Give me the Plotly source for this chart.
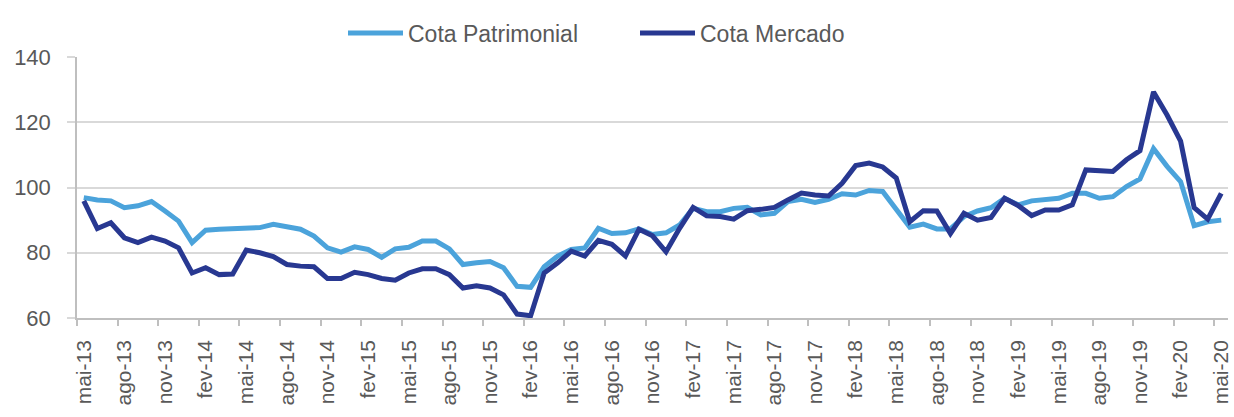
import plotly.graph_objects as go

tick_labels = ["mai-13", "ago-13", "nov-13", "fev-14", "mai-14", "ago-14", "nov-14",
               "fev-15", "mai-15", "ago-15", "nov-15", "fev-16", "mai-16", "ago-16",
               "nov-16", "fev-17", "mai-17", "ago-17", "nov-17", "fev-18", "mai-18",
               "ago-18", "nov-18", "fev-19", "mai-19", "ago-19", "nov-19", "fev-20",
               "mai-20"]

cota_patrimonial = [
    96.9, 96.2, 95.9, 93.8, 94.4, 95.7, 92.8, 89.7, 83.1, 86.9,
    87.2, 87.4, 87.7, 87.7, 88.7, 87.9, 87.2, 85.1, 81.5, 80.2,
    81.8, 81.0, 78.6, 81.2, 81.7, 83.6, 83.6, 81.2, 76.4, 76.9,
    77.3, 75.4, 69.7, 69.4, 75.7, 79.0, 81.0, 81.5, 87.5, 85.9,
    86.1, 87.3, 85.6, 86.1, 88.5, 93.6, 92.6, 92.6, 93.6, 93.9,
    91.6, 92.1, 95.7, 96.4, 95.4, 96.4, 98.1, 97.7, 99.1, 98.8,
    93.1, 87.8, 88.8, 87.3, 87.3, 91.1, 92.8, 93.8, 96.7, 94.7,
    95.9, 96.2, 96.7, 98.2, 98.2, 96.7, 97.2, 100.3, 102.6, 111.9,
    106.5, 101.8, 88.3, 89.5, 90.0]

cota_mercado = [
    95.9, 87.4, 89.2, 84.6, 83.1, 84.8, 83.6, 81.5, 73.8, 75.4,
    73.3, 73.5, 80.8, 80.0, 78.8, 76.4, 75.9, 75.7, 72.1, 72.1,
    74.0, 73.3, 72.1, 71.6, 73.8, 75.1, 75.1, 73.3, 69.2, 69.9,
    69.2, 67.1, 61.2, 60.7, 73.8, 76.9, 80.5, 79.0, 83.8, 82.6,
    79.0, 87.2, 85.2, 80.3, 87.5, 93.9, 91.3, 91.1, 90.3, 92.9,
    93.3, 93.9, 96.2, 98.3, 97.7, 97.4, 101.3, 106.7, 107.5, 106.3,
    102.9, 89.5, 92.9, 92.8, 85.9, 92.1, 90.0, 90.8, 96.7, 94.5,
    91.4, 93.1, 93.1, 94.7, 105.4, 105.1, 104.9, 108.5, 111.3, 129.3,
    122.2, 114.2, 93.8, 90.3, 98.2]

n = len(cota_patrimonial)
x = list(range(n))
tick_step = 3
tickvals = list(range(0, n, tick_step))
boundary_ticks = [v - 0.5 for v in tickvals]

FONT = "Liberation Sans, Arial, sans-serif"
TXT = "#595959"
GRID = "#D9D9D9"
AXIS = "#BFBFBF"

fig = go.Figure()
fig.add_trace(go.Scatter(x=x, y=cota_patrimonial, mode="lines", name="Cota Patrimonial",
                         line=dict(color="#4BA3DB", width=5), legend="legend"))
fig.add_trace(go.Scatter(x=x, y=cota_mercado, mode="lines", name="Cota Mercado",
                         line=dict(color="#283891", width=5), legend="legend2"))

legend_common = dict(orientation="h", xref="container", yref="container",
                     xanchor="left", y=0.921, yanchor="middle",
                     font=dict(size=23, color=TXT), bgcolor="rgba(0,0,0,0)",
                     itemwidth=55)

fig.update_layout(
    width=1234, height=417,
    margin=dict(l=77, r=6, t=57, b=99, autoexpand=False),
    paper_bgcolor="white", plot_bgcolor="white",
    font=dict(family=FONT, color=TXT, size=21),
    showlegend=True,
    legend=dict(x=343 / 1234, **legend_common),
    legend2=dict(x=635 / 1234, **legend_common),
    hovermode=False,
)

fig.update_xaxes(
    range=[-0.5, n - 0.5], tickmode="array", tickvals=tickvals, ticktext=tick_labels,
    tickangle=-90, ticks="", showgrid=False, zeroline=False, automargin=False,
    showline=True, linecolor=AXIS, linewidth=1.5,
    tickfont=dict(size=21, color=TXT), ticklabelstandoff=12,
    minor=dict(tickmode="array", tickvals=boundary_ticks, ticks="outside", ticklen=6,
               tickcolor=AXIS, tickwidth=1.5, showgrid=False),
)
fig.update_yaxes(
    range=[60, 140], tickmode="array", tickvals=[60, 80, 100, 120, 140],
    showgrid=True, gridcolor=GRID, gridwidth=1.5, zeroline=False, automargin=False,
    showline=True, linecolor=AXIS, linewidth=1.5,
    ticks="outside", ticklen=8, tickcolor=GRID, tickwidth=1.5,
    tickfont=dict(size=22, color=TXT), ticklabelstandoff=12,
)

fig.write_html("out.html", config={"displayModeBar": False},
               post_script="document.body.style.margin='0';document.body.style.overflow='hidden';")
